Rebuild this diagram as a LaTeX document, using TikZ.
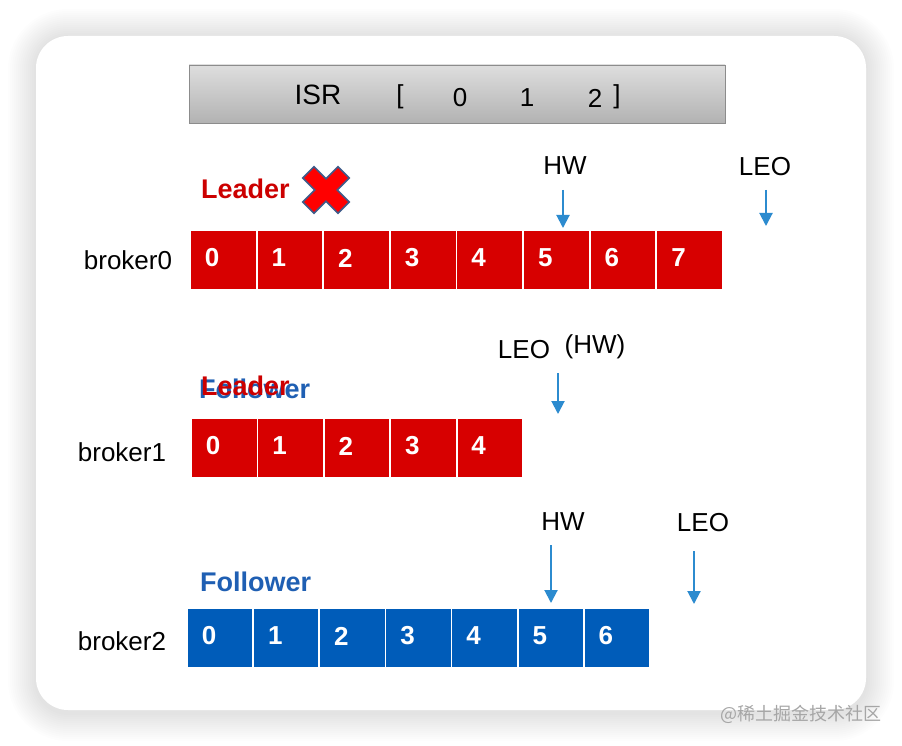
\documentclass[tikz,border=0pt]{standalone}
\usepackage{fontspec}
\setmainfont{Liberation Sans}
\newfontfamily\cjkfont{Noto Sans CJK SC}
\usepackage{xcolor}
\usetikzlibrary{arrows.meta, positioning, calc}

\definecolor{cellred}{HTML}{D70000}
\definecolor{cellblue}{HTML}{005CB9}
\definecolor{leadred}{HTML}{CC0000}
\definecolor{followblue}{HTML}{1F5FB3}
\definecolor{arrowblue}{HTML}{2C8BCF}
\definecolor{crossedge}{HTML}{3D5C8A}

\begin{document}
\begin{tikzpicture}[
        x=1pt, y=-1pt,
        every node/.style={inner sep=0pt, font=\fontsize{26}{30}\selectfont},
        redcell/.style={draw=white, line width=1.8pt, fill=cellred, minimum height=60pt},
        bluecell/.style={draw=white, line width=1.8pt, fill=cellblue, minimum height=60pt},
        num/.style={text=white, font=\bfseries\fontsize{26}{30}\selectfont},
        role/.style={anchor=west, font=\bfseries\fontsize{27}{30}\selectfont},
        ptr/.style={arrowblue, line width=2pt, -{Triangle[length=13pt, width=13pt]}}
]
\useasboundingbox (0,0) rectangle (902,746);

%--- card and its soft shadow ---------------------------------
\foreach \k in {1,...,14} {
  \pgfmathsetmacro{\rad}{32+2*\k}
  \fill[black, opacity=0.008, rounded corners=\rad pt]
       (36-2*\k, 37-2*\k) rectangle (866+2*\k, 713+2*\k);
}
\fill[white, rounded corners=32pt] (36,36) rectangle (866,710);

%--- ISR bar -------------------------------------------------
\node[draw=black!45, line width=0.8pt, top color=black!13, bottom color=black!30,
      minimum width=536pt, minimum height=58pt] (isr) at (457,94) {};
\node[font=\fontsize{28}{30}\selectfont] (isrname) at (318,95) {ISR};
\node (isropen)  at (400,97) {[};
\node (isr0)     at (460,98) {0};
\node (isr1)     at (527,98) {1};
\node (isr2)     at (595,98) {2};
\node (isrclose) at (617,97) {]};

%--- broker0 : leader, now down --------------------------------
\node (b0) at (128,260) {broker0};
\node[role, text=leadred] (lead0) at (201,189) {Leader};
\foreach \i in {0,...,7} {
  \node[redcell, minimum width=66.6pt] (r0c\i) at ({190+66.625*(\i+0.5)},260) {};
  \node[num] (r0n\i) at ([xshift=23pt, yshift=2pt]r0c\i.west) {\i};
}
\begin{scope}[shift={(326,190)}, rotate=45]
  \draw[crossedge, line width=1.6pt, fill=red]
    (-8,-25)--(8,-25)--(8,-8)--(25,-8)--(25,8)--(8,8)--(8,25)
    --(-8,25)--(-8,8)--(-25,8)--(-25,-8)--(-8,-8)--cycle;
\end{scope}
\node (hw0)  at (565,166) {HW};
\node (leo0) at (765,167) {LEO};
\coordinate (hw0s) at (563,190);  \coordinate (hw0e) at (563,228);
\coordinate (leo0s) at (766,190); \coordinate (leo0e) at (766,226);
\draw[ptr] (hw0s) -- (hw0e);
\draw[ptr] (leo0s) -- (leo0e);

%--- broker1 : follower, new leader ----------------------------
\node (b1) at (122,452) {broker1};
\node[role, text=followblue] (fol1) at (199,389) {Follower};
\node[role, text=leadred] (lead1) at (201,386) {Leader};
\foreach \i in {0,...,4} {
  \node[redcell, minimum width=66.4pt] (r1c\i) at ({191+66.4*(\i+0.5)},448) {};
  \node[num] (r1n\i) at ([xshift=23pt, yshift=2pt]r1c\i.west) {\i};
}
\node (leo1) at (524,350) {LEO};
\node (hw1)  at (595,347) {(HW)};
\coordinate (leo1s) at (558,373); \coordinate (leo1e) at (558,414);
\draw[ptr] (leo1s) -- (leo1e);

%--- broker2 : follower ----------------------------------------
\node (b2) at (122,641) {broker2};
\node[role, text=followblue] (fol2) at (200,582) {Follower};
\foreach \i in {0,...,6} {
  \node[bluecell, minimum width=66.1pt] (r2c\i) at ({187+66.14*(\i+0.5)},638) {};
  \node[num] (r2n\i) at ([xshift=23pt, yshift=2pt]r2c\i.west) {\i};
}
\node (hw2)  at (563,522) {HW};
\node (leo2) at (703,523) {LEO};
\coordinate (hw2s) at (551,545);  \coordinate (hw2e) at (551,603);
\coordinate (leo2s) at (694,551); \coordinate (leo2e) at (694,604);
\draw[ptr] (hw2s) -- (hw2e);
\draw[ptr] (leo2s) -- (leo2e);

%--- watermark -----------------------------------------------
\node[font=\cjkfont\fontsize{18}{20}\selectfont, text=black!35] (mark) at (801,714) {@稀土掘金技术社区};

\end{tikzpicture}
\end{document}
